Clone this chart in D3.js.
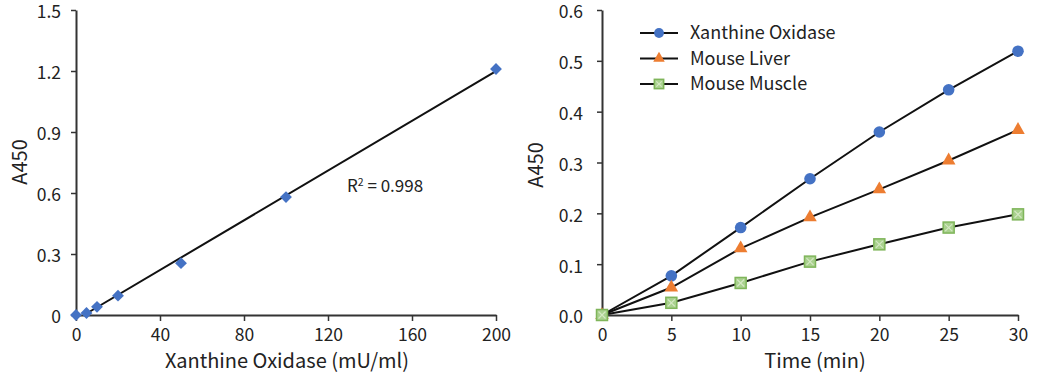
<!DOCTYPE html>
<html><head><meta charset="utf-8">
<script src="https://cdn.jsdelivr.net/npm/d3@7"></script>
<style>body{margin:0;background:#fff}svg text{font-family:"Noto Sans CJK SC","Noto Sans",sans-serif;fill:#222}</style>
</head><body><svg id="c" width="1039" height="379"></svg>
<script>
// Left chart data
const stdConc = [0, 5, 10, 20, 50, 100, 200];
const stdA450 = [0, 0.01, 0.04, 0.095, 0.255, 0.58, 1.21];
const leftYTicks = [0, 0.3, 0.6, 0.9, 1.2, 1.5];
const leftYTickLabels = ["0", "0.3", "0.6", "0.9", "1.2", "1.5"];
const leftXTicks = [0, 40, 80, 120, 160, 200];
const r2Label = "0.998";
// Right chart data
const times = [0, 5, 10, 15, 20, 25, 30];
const seriesNames = ["Xanthine Oxidase", "Mouse Liver", "Mouse Muscle"];
const xanthineOxidase = [0, 0.077, 0.172, 0.268, 0.36, 0.443, 0.519];
const mouseLiver = [0, 0.054, 0.131, 0.192, 0.247, 0.304, 0.364];
const mouseMuscle = [0, 0.024, 0.063, 0.105, 0.139, 0.172, 0.198];
const rightYTicks = [0, 0.1, 0.2, 0.3, 0.4, 0.5, 0.6];
const rightXTicks = [0, 5, 10, 15, 20, 25, 30];

const svg = d3.select("#c");
const axisColor = "#333";

function styleAxis(g){
  g.select(".domain").attr("stroke", axisColor).attr("stroke-width", 2);
  g.selectAll(".tick line").attr("stroke", axisColor).attr("stroke-width", 1.5);
  g.selectAll(".tick text").attr("font-size", 17.5).attr("fill", "#222");
}
function styleY(g){
  styleAxis(g);
  g.selectAll(".tick text").attr("dy", "0.45em");
}

// ---------- Left chart ----------
const lx = d3.scaleLinear().domain([0, 200]).range([76, 496]);
const ly = d3.scaleLinear().domain([0, 1.5]).range([315, 10]);
const L = svg.append("g");
L.append("g").attr("transform", "translate(0,315)")
  .call(d3.axisBottom(lx).tickValues(leftXTicks).tickSize(6).tickSizeOuter(0).tickPadding(8))
  .call(styleAxis);
L.append("g").attr("transform", "translate(76,0)")
  .call(d3.axisLeft(ly).tickValues(leftYTicks).tickFormat((d,i)=>leftYTickLabels[i]).tickSize(5).tickSizeOuter(0).tickPadding(10))
  .call(styleY);
// regression trendline
const mx = d3.mean(stdConc), my = d3.mean(stdA450);
const slope = d3.sum(stdConc.map((x,i)=>(x-mx)*(stdA450[i]-my))) / d3.sum(stdConc.map(x=>(x-mx)*(x-mx)));
const icpt = my - slope*mx;
const x0 = -icpt/slope;
L.append("line").attr("x1", lx(x0)).attr("y1", ly(0)).attr("x2", lx(200)).attr("y2", ly(icpt+slope*200))
  .attr("stroke", "#111").attr("stroke-width", 2);
L.selectAll(".dia").data(stdConc).enter().append("path")
  .attr("d", d3.symbol().type(d3.symbolSquare).size(70))
  .attr("transform", (d,i)=>`translate(${lx(d)},${ly(stdA450[i])}) rotate(45)`)
  .attr("fill", "#4472C4");
const r2 = L.append("text").attr("x", 347).attr("y", 192).attr("font-size", 17);
r2.append("tspan").text("R");
r2.append("tspan").text("2").attr("font-size", 10.5).attr("dy", -6.5);
r2.append("tspan").text(" = " + r2Label).attr("dy", 6.5);
L.append("text").attr("transform", "translate(27,162) rotate(-90)").attr("text-anchor", "middle").attr("font-size", 20).text("A450");
L.append("text").attr("x", 287).attr("y", 368).attr("text-anchor", "middle").attr("font-size", 20).text("Xanthine Oxidase (mU/ml)");

// ---------- Right chart ----------
const rx = d3.scaleLinear().domain([0, 30]).range([602, 1018]);
const ry = d3.scaleLinear().domain([0, 0.6]).range([315, 10]);
const R = svg.append("g");
R.append("g").attr("transform", "translate(0,315)")
  .call(d3.axisBottom(rx).tickValues(rightXTicks).tickSize(6).tickSizeOuter(0).tickPadding(8))
  .call(styleAxis);
R.append("g").attr("transform", "translate(602,0)")
  .call(d3.axisLeft(ry).tickValues(rightYTicks).tickFormat(d3.format(".1f")).tickSize(5).tickSizeOuter(0).tickPadding(14))
  .call(styleY);
R.append("text").attr("transform", "translate(543,165) rotate(-90)").attr("text-anchor", "middle").attr("font-size", 20).text("A450");
R.append("text").attr("x", 815).attr("y", 368).attr("text-anchor", "middle").attr("font-size", 20).text("Time (min)");

const series = [xanthineOxidase, mouseLiver, mouseMuscle];
const line = d3.line().x((d,i)=>rx(times[i])).y(d=>ry(d));
series.forEach(s=>{
  R.append("path").attr("d", line(s)).attr("fill", "none").attr("stroke", "#111").attr("stroke-width", 2);
});
function marker(g, k, x, y, sc){
  sc = sc || 1;
  if(k===0){
    g.append("circle").attr("cx", x).attr("cy", y).attr("r", 5.8*sc).attr("fill", "#4472C4");
  } else if(k===1){
    g.append("path").attr("d", d3.symbol().type(d3.symbolTriangle).size(80*sc*sc)).attr("transform", `translate(${x},${y})`).attr("fill", "#ED7D31");
  } else {
    const h = 5.5*sc;
    g.append("rect").attr("x", x-h).attr("y", y-h).attr("width", 2*h).attr("height", 2*h).attr("fill", "#A9D18E").attr("stroke", "#7FB55A").attr("stroke-width", 1.5);
    g.append("path").attr("d", `M${x-h+2},${y-h+2}L${x+h-2},${y+h-2}M${x+h-2},${y-h+2}L${x-h+2},${y+h-2}`).attr("stroke", "#D5E8C4").attr("stroke-width", 1.2);
  }
}
series.forEach((s,k)=>{
  s.forEach((v,i)=>marker(R, k, rx(times[i]), ry(v)));
});
// legend
seriesNames.forEach((name,k)=>{
  const y = 33 + k*25.5;
  R.append("line").attr("x1", 640).attr("x2", 678).attr("y1", y).attr("y2", y).attr("stroke", "#111").attr("stroke-width", 2);
  marker(R, k, 659, y, 0.85);
  R.append("text").attr("x", 690).attr("y", y+6).attr("font-size", 18).text(name);
});
</script></body></html>
